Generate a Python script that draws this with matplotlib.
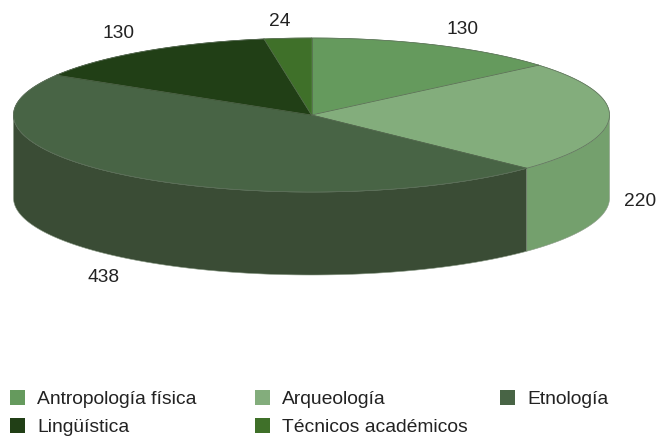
import numpy as np
import matplotlib
matplotlib.use("Agg")
import matplotlib.pyplot as plt
from matplotlib.patches import Polygon, Rectangle

plt.rcParams['font.family'] = ['Liberation Sans', 'DejaVu Sans']

categories = ["Antropología física", "Arqueología", "Etnología", "Lingüística", "Técnicos académicos"]
values = [130, 220, 438, 130, 24]
top_colors = ["#659a5d", "#83ad7c", "#486445", "#213f16", "#3f7029"]
side_colors = ["#588a50", "#74a06d", "#3a4c35", "#1a3312", "#335d22"]
value_labels = ["130", "220", "438", "130", "24"]
label_pos = [(463, 29), (640, 202), (104, 278), (118, 34), (280, 21)]
legend_pos = [(13, 398), (258, 398), (503, 398), (13, 426), (258, 426)]

W, H = 663, 438
CX, CY, RX, RY, DEPTH = 311.5, 115, 298, 77, 83

fig = plt.figure(figsize=(W / 100, H / 100), dpi=100)
ax = fig.add_axes([0, 0, 1, 1])
ax.set_xlim(0, W)
ax.set_ylim(H, 0)
ax.axis("off")

def rim(a0, a1, n=200):
    t = np.linspace(a0, a1, n)
    return CX + RX * np.sin(t), CY - RY * np.cos(t)

edges = np.concatenate([[0], np.cumsum(values)]) / sum(values) * 2 * np.pi

for i in range(len(values)):
    a0, a1 = max(edges[i], np.pi / 2), min(edges[i + 1], 3 * np.pi / 2)
    if a1 <= a0:
        continue
    x, y = rim(a0, a1)
    pts = np.r_[np.c_[x, y], np.c_[x[::-1], y[::-1] + DEPTH]]
    ax.add_patch(Polygon(pts, closed=True, fc=side_colors[i], ec="#8a9a86", lw=0.4, zorder=2))

for i in range(len(values)):
    x, y = rim(edges[i], edges[i + 1])
    pts = np.r_[[[CX, CY]], np.c_[x, y]]
    ax.add_patch(Polygon(pts, closed=True, fc=top_colors[i], ec=top_colors[i], lw=0.5, zorder=3))
    ax.plot(x, y, color="#5f6f5c", lw=0.5, zorder=4)
    ax.plot([CX, x[0]], [CY, y[0]], color="#55684f", lw=0.5, zorder=4)

for s, (px, py) in zip(value_labels, label_pos):
    ax.text(px, py, s, ha="center", va="center", fontsize=13.8, color="#222222")

for name, c, (px, py) in zip(categories, top_colors, legend_pos):
    ax.add_patch(Rectangle((px - 3, py - 8.5), 15, 15, fc=c, ec="none"))
    ax.text(px + 24, py - 1, name, ha="left", va="center_baseline", fontsize=13.9, color="#222222")

fig.savefig("out.png", dpi=100)
